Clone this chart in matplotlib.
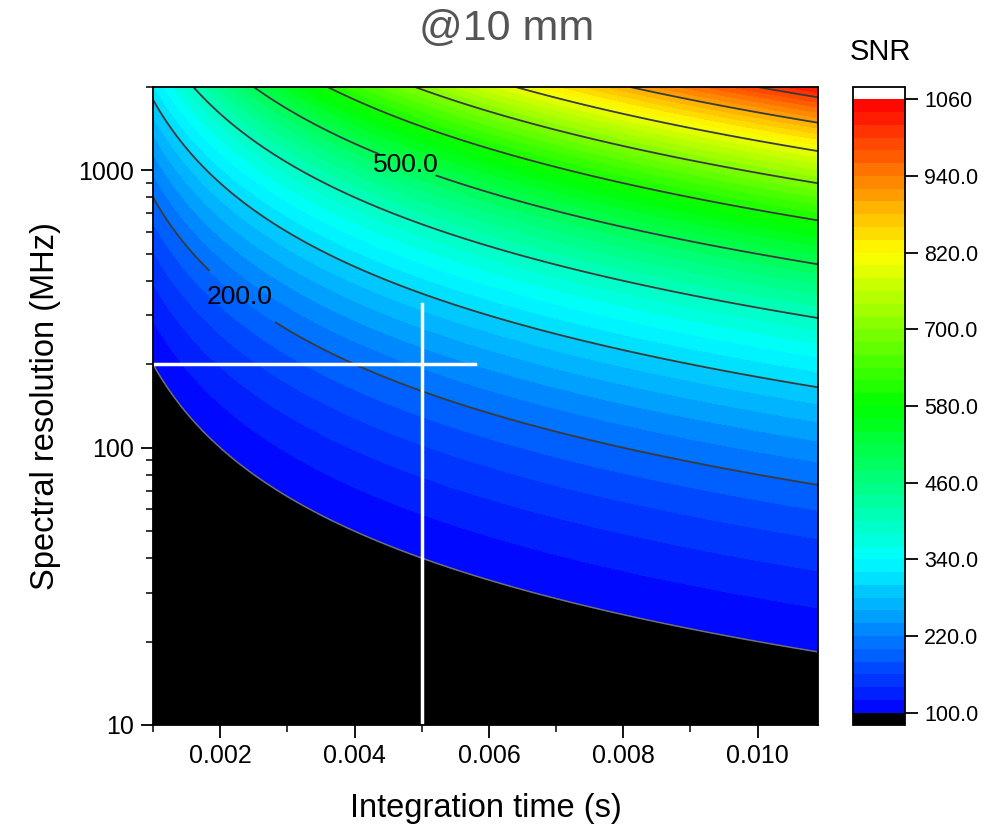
import numpy as np
import matplotlib
matplotlib.use("Agg")
import matplotlib.pyplot as plt
from matplotlib.colors import LinearSegmentedColormap
from matplotlib.ticker import MultipleLocator, FixedLocator, FixedFormatter, LogLocator, NullFormatter

plt.rcParams['font.family'] = ['Liberation Sans', 'DejaVu Sans']

# axis ranges
t_range = [0.001, 0.0109]      # integration time (s)
b_range = [10, 2000]           # spectral resolution (MHz)

# radiometer relation SNR = k*sqrt(t*B); SNR=100 boundary sits at t*B ~ 0.2
snr_ref = 100.0
tb_ref = 0.2

fill_levels = np.arange(100, 1061, 20)
line_levels = [300, 400, 600, 700, 800, 900, 1000]
edge_level = [100]
label_levels = [200, 500]
label_pos = [(0.0023, 351), (0.00482, 1059)]

cbar_ticks = [100, 220, 340, 460, 580, 700, 820, 940, 1060]
cbar_labels = ['100.0', '220.0', '340.0', '460.0', '580.0', '700.0', '820.0', '940.0', '1060']

# white guide lines
h_line_b = 200
h_line_t = [0.001, 0.0058]
v_line_t = 0.005
v_line_b = [10, 330]

t = np.linspace(t_range[0], t_range[1], 400)
b = np.logspace(np.log10(b_range[0]), np.log10(b_range[1]), 400)
T, B = np.meshgrid(t, b)
snr = snr_ref * np.sqrt(T * B / tb_ref)

cmap = LinearSegmentedColormap.from_list(
    'origin_rainbow', ['#0000ff', '#00ffff', '#00ff00', '#ffff00', '#ff0000'])
cmap.set_under('black')
cmap.set_over('white')

fig = plt.figure(figsize=(9.97, 8.26), dpi=100)
ax = fig.add_axes([0.1535, 0.1223, 0.667, 0.7724])
cax = fig.add_axes([0.8556, 0.1223, 0.052, 0.7724])

cf = ax.contourf(T, B, snr, levels=fill_levels, cmap=cmap, extend='both')
ax.contour(T, B, snr, levels=line_levels, colors='#3a3a3a', linewidths=1.3)
ax.contour(T, B, snr, levels=edge_level, colors='#707070', linewidths=1.1)
cs_lab = ax.contour(T, B, snr, levels=label_levels, colors='#3a3a3a', linewidths=1.3)
texts = ax.clabel(cs_lab, manual=label_pos, fmt='%.1f',
                  fontsize=19, colors='black', inline=True, inline_spacing=8)
for tx in texts:
    tx.set_rotation(0)

ax.plot(h_line_t, [h_line_b, h_line_b], color='white', lw=2.5)
ax.plot([v_line_t, v_line_t], v_line_b, color='white', lw=2.5)

ax.set_yscale('log')
ax.set_xlim(t_range)
ax.set_ylim(b_range)
ax.xaxis.set_major_locator(MultipleLocator(0.002))
ax.xaxis.set_minor_locator(MultipleLocator(0.001))
ax.xaxis.set_major_formatter(plt.FormatStrFormatter('%.3f'))
ax.yaxis.set_major_locator(FixedLocator([10, 100, 1000]))
ax.yaxis.set_major_formatter(FixedFormatter(['10', '100', '1000']))
ax.yaxis.set_minor_locator(LogLocator(base=10, subs=np.arange(2, 10)))
ax.yaxis.set_minor_formatter(NullFormatter())
ax.tick_params(which='major', direction='out', length=9, width=1.3, labelsize=18, pad=5)
ax.tick_params(which='minor', direction='out', length=5, width=1.1)
for s in ax.spines.values():
    s.set_linewidth(1.3)

ax.set_xlabel('Integration time (s)', fontsize=23.5, labelpad=18)
ax.set_ylabel('Spectral resolution (MHz)', fontsize=23.5, labelpad=12)

fig.text(0.508, 0.965, '@10 mm', fontsize=31, color='#555555', ha='center', va='center')

cb = fig.colorbar(cf, cax=cax, extend='both', extendrect=True, extendfrac=0.02)
cb.set_ticks(cbar_ticks)
cb.set_ticklabels(cbar_labels)
cb.ax.tick_params(direction='out', length=9, width=1.3, labelsize=15.5, pad=5)
cb.outline.set_linewidth(1.3)
cb.ax.minorticks_off()
fig.text(0.883, 0.937, 'SNR', fontsize=21, ha='center', va='center')

fig.savefig('out.png', dpi=100)
